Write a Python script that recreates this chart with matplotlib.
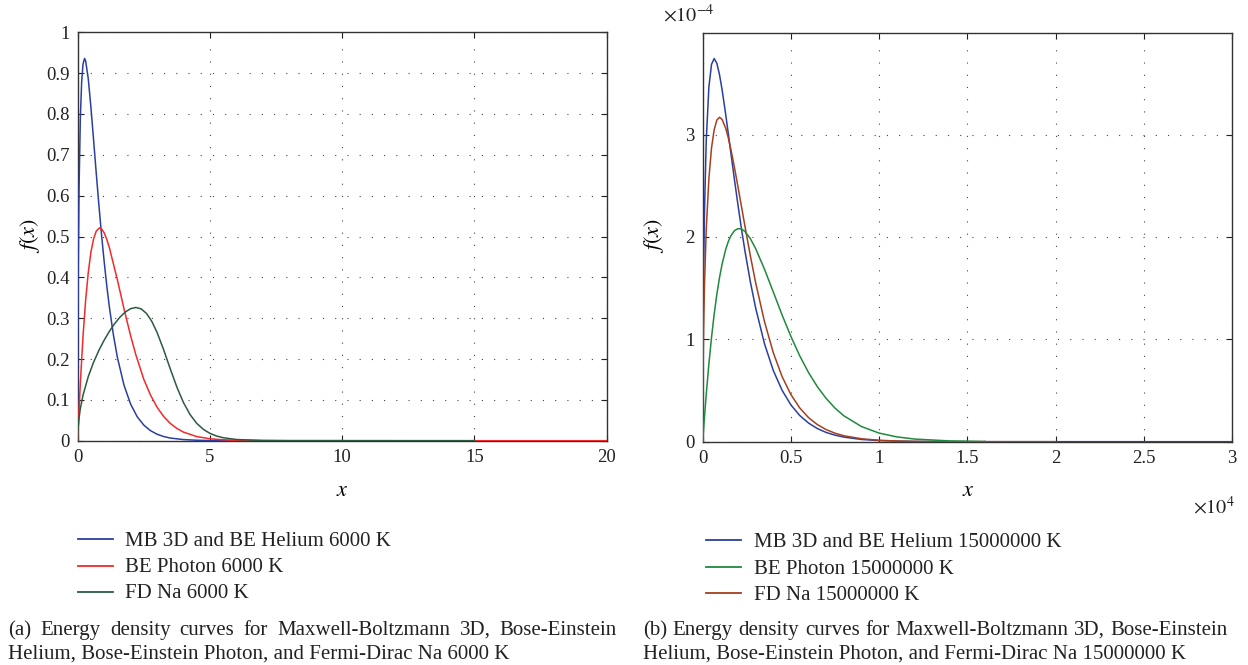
import matplotlib
matplotlib.use("Agg")
import matplotlib.pyplot as plt
from matplotlib.ticker import FixedLocator, FuncFormatter

# ---------------- data (panel a, 6000 K) ----------------
mb_a_x = [0, 0.005, 0.01, 0.02, 0.05, 0.1, 0.15, 0.2, 0.26, 0.3, 0.4, 0.5, 0.6, 0.7, 0.8,
          0.9, 1.0, 1.1, 1.2, 1.35, 1.5, 1.75, 2.0, 2.25, 2.5, 2.75, 3.0, 3.25, 3.5, 4.0,
          4.5, 5.0, 6.0, 8.0, 10.0]
mb_a_y = [0, 0.2125, 0.298, 0.413, 0.616, 0.791, 0.879, 0.922, 0.936, 0.930, 0.886, 0.816,
          0.737, 0.656, 0.578, 0.505, 0.439, 0.379, 0.326, 0.259, 0.204, 0.136, 0.0897,
          0.0586, 0.0381, 0.0247, 0.0159, 0.0102, 0.0065, 0.0027, 0.0011, 0.0004, 0.0001,
          0, 0]

ph_a_x = [0, 0.02, 0.05, 0.1, 0.2, 0.3, 0.4, 0.5, 0.6, 0.7, 0.82, 0.9, 1.0, 1.1, 1.2, 1.5,
          1.75, 2.0, 2.2, 2.5, 2.75, 3.0, 3.25, 3.5, 3.75, 4.0, 4.5, 5.0, 5.5, 6.0, 7.0,
          8.0, 20.0]
ph_a_y = [0, 0.0305, 0.0741, 0.141, 0.255, 0.344, 0.412, 0.462, 0.494, 0.513, 0.521, 0.519,
          0.509, 0.493, 0.472, 0.394, 0.323, 0.257, 0.210, 0.150, 0.112, 0.0821, 0.0592,
          0.0423, 0.0300, 0.0210, 0.0101, 0.0047, 0.0022, 0.0010, 0.0002, 0, 0]

fd_a_x = [0, 0.01, 0.02, 0.05, 0.1, 0.2, 0.4, 0.6, 0.8, 1.0, 1.2, 1.4, 1.6, 1.8, 2.0, 2.2,
          2.4, 2.6, 2.8, 3.0, 3.24, 3.5, 3.75, 4.0, 4.25, 4.5, 4.75, 5.0, 5.25, 5.5, 6.0,
          7.0, 8.0, 15.0]
fd_a_y = [0, 0.0249, 0.0353, 0.0556, 0.0788, 0.1112, 0.1571, 0.1920, 0.2211, 0.2461, 0.2680,
          0.2869, 0.3027, 0.3151, 0.3233, 0.3262, 0.3228, 0.3117, 0.2924, 0.2652, 0.2244,
          0.1758, 0.1312, 0.0932, 0.0638, 0.0425, 0.0278, 0.0179, 0.0115, 0.0073, 0.0029,
          0.0005, 0.0001, 0]

# ---------------- data (panel b, 15000000 K), y in units of 1e-4 ----------------
b_x = [0, 10, 20, 50, 100, 200, 350, 500, 650, 800, 950, 1100, 1300, 1450, 1600, 1800,
       2000, 2200, 2400, 2700, 3000, 3500, 4000, 4500, 5000, 5500, 6000, 6500, 7000, 7500,
       8000, 9000, 10000, 11000, 12000, 14000, 16000]
mb_b_y = [0, 0.761, 1.069, 1.651, 2.246, 2.940, 3.464, 3.687, 3.743, 3.698, 3.588, 3.438,
          3.202, 3.011, 2.816, 2.560, 2.312, 2.076, 1.858, 1.563, 1.307, 0.958, 0.696,
          0.502, 0.359, 0.256, 0.182, 0.128, 0.090, 0.064, 0.045, 0.022, 0.011, 0.0051,
          0.0025, 0.0006, 0.0001]
ph_b_y = [0, 0.0247, 0.0494, 0.122, 0.239, 0.460, 0.758, 1.019, 1.245, 1.438, 1.601, 1.736,
          1.876, 1.955, 2.013, 2.062, 2.082, 2.078, 2.053, 1.984, 1.887, 1.686, 1.463,
          1.238, 1.028, 0.839, 0.675, 0.537, 0.422, 0.328, 0.253, 0.148, 0.084, 0.047,
          0.026, 0.0075, 0.0021]
fd_b_y = [0, 0.499, 0.704, 1.100, 1.525, 2.070, 2.568, 2.870, 3.048, 3.141, 3.170, 3.148,
          3.064, 2.969, 2.854, 2.679, 2.490, 2.295, 2.100, 1.817, 1.554, 1.174, 0.870,
          0.636, 0.460, 0.330, 0.235, 0.167, 0.118, 0.083, 0.058, 0.0285, 0.0139, 0.0067,
          0.0032, 0.0007, 0.0002]
mb_b_tail_x = [16000, 30000]
mb_b_tail_y = [0.0001, 0]
fd_b_tail_x = [16000, 20000]
fd_b_tail_y = [0.0002, 0]

labels_a = ["MB 3D and BE Helium 6000 K", "BE Photon 6000 K", "FD Na 6000 K"]
labels_b = ["MB 3D and BE Helium 15000000 K", "BE Photon 15000000 K", "FD Na 15000000 K"]
caption_a = ["(a)  Energy density curves for Maxwell-Boltzmann 3D, Bose-Einstein",
             "Helium, Bose-Einstein Photon, and Fermi-Dirac Na 6000 K"]
caption_b = ["(b)  Energy density curves for Maxwell-Boltzmann 3D, Bose-Einstein",
             "Helium, Bose-Einstein Photon, and Fermi-Dirac Na 15000000 K"]

xticks_a = [0, 5, 10, 15, 20]
yticks_a = [0, 0.1, 0.2, 0.3, 0.4, 0.5, 0.6, 0.7, 0.8, 0.9, 1.0]
xticks_b = [0, 5000, 10000, 15000, 20000, 25000, 30000]
yticks_b = [0, 1, 2, 3]

# ---------------- style ----------------
plt.rcParams['font.family'] = ['Liberation Serif', 'DejaVu Serif']
plt.rcParams['mathtext.fontset'] = 'stix'

C_BLUE = '#2b3f9f'
C_RED = '#f22a2a'
C_DKGREEN = '#2c5a40'
C_GREEN = '#1f8a3e'
C_BROWN = '#a4401f'

W, H = 1248, 665
fig = plt.figure(figsize=(W / 100, H / 100), dpi=100)


def px_axes(l, t, r, b):
    return fig.add_axes([l / W, 1 - b / H, (r - l) / W, (b - t) / H])


ax1 = px_axes(77.7, 32.3, 606.7, 440.7)
ax2 = px_axes(702.7, 33.3, 1232, 441.7)

TICK_FS = 13.5
for ax in (ax1, ax2):
    for s in ax.spines.values():
        s.set_color('#333333')
        s.set_linewidth(1.0)
    ax.tick_params(direction='in', length=4, width=0.8, top=True, right=True,
                   labelsize=TICK_FS, colors='#222222', pad=6)
    ax.grid(True, color='#444444', linewidth=0.8, linestyle=(0, (1, 10)))
    ax.set_axisbelow(True)

# panel a
ax1.plot(mb_a_x, mb_a_y, color=C_BLUE, lw=1.1, zorder=3)
ax1.plot(ph_a_x, ph_a_y, color=C_RED, lw=1.1, zorder=3)
ax1.plot(fd_a_x, fd_a_y, color=C_DKGREEN, lw=1.1, zorder=4)
ax1.set_xlim(0, 20)
ax1.set_ylim(0, 1)
ax1.xaxis.set_major_locator(FixedLocator(xticks_a))
ax1.yaxis.set_major_locator(FixedLocator(yticks_a))
ax1.yaxis.set_major_formatter(FuncFormatter(lambda v, p: ('%g' % round(v, 2))))

# panel b
ax2.plot(b_x, mb_b_y, color=C_BLUE, lw=1.1, zorder=3)
ax2.plot(mb_b_tail_x, mb_b_tail_y, color=C_BLUE, lw=1.1, zorder=3)
ax2.plot(b_x, ph_b_y, color=C_GREEN, lw=1.1, zorder=5)
ax2.plot(b_x, fd_b_y, color=C_BROWN, lw=1.1, zorder=4)
ax2.plot(fd_b_tail_x, fd_b_tail_y, color=C_BROWN, lw=1.1, zorder=4)
ax2.set_xlim(0, 30000)
ax2.set_ylim(0, 3.99)
ax2.xaxis.set_major_locator(FixedLocator(xticks_b))
ax2.xaxis.set_major_formatter(FuncFormatter(lambda v, p: '%g' % (v / 1e4)))
ax2.yaxis.set_major_locator(FixedLocator(yticks_b))
ax2.yaxis.set_major_formatter(FuncFormatter(lambda v, p: '%g' % v))

LAB_FS = 16
fig.text(342 / W, 1 - 492 / H, r'$x$', fontsize=LAB_FS, ha='center', va='center')
fig.text(968 / W, 1 - 492 / H, r'$x$', fontsize=LAB_FS, ha='center', va='center')
fig.text(30 / W, 1 - 236 / H, r'$f(x)$', fontsize=LAB_FS, ha='center', va='center',
         rotation=90)
fig.text(654 / W, 1 - 236 / H, r'$f(x)$', fontsize=LAB_FS, ha='center', va='center',
         rotation=90)
fig.text(663 / W, 1 - 16 / H, r'$\times10^{-4}$', fontsize=14.5, ha='left',
         va='center', color='#222222')
fig.text(1193 / W, 1 - 508 / H, r'$\times10^{4}$', fontsize=14.5, ha='left',
         va='center', color='#222222')

# legends (drawn manually below the axes)
LEG_FS = 15


def legend(x0, x1, xt, ys, colors, labels):
    for y, c, lab in zip(ys, colors, labels):
        fig.add_artist(plt.Line2D([x0 / W, x1 / W], [1 - y / H, 1 - y / H], color=c,
                                  lw=1.3, transform=fig.transFigure))
        fig.text(xt / W, 1 - y / H, lab, fontsize=LEG_FS, ha='left', va='center_baseline',
                 color='#222222')


legend(78, 113, 125, [539, 565.5, 591.5], [C_BLUE, C_RED, C_DKGREEN], labels_a)
legend(706, 741, 754, [540, 567, 593], [C_BLUE, C_GREEN, C_BROWN], labels_b)

# captions (first line justified)
CAP_FS = 15
fig.canvas.draw()
renderer = fig.canvas.get_renderer()


def justified(line, x0, x1, y):
    words = line.split()
    texts = [fig.text(0, 1 - y / H, w, fontsize=CAP_FS, ha='left', va='center_baseline',
                      color='#222222') for w in words]
    widths = [t.get_window_extent(renderer).width for t in texts]
    gap = (x1 - x0 - sum(widths)) / (len(words) - 1)
    x = x0
    for t, w in zip(texts, widths):
        t.set_x(x / W)
        x += w + gap


justified(caption_a[0], 8, 617, 628)
fig.text(8 / W, 1 - 652 / H, caption_a[1], fontsize=CAP_FS, ha='left',
         va='center_baseline', color='#222222')
justified(caption_b[0], 643, 1228, 628)
fig.text(643 / W, 1 - 652 / H, caption_b[1], fontsize=CAP_FS, ha='left',
         va='center_baseline', color='#222222')

fig.savefig('out.png', dpi=100)
